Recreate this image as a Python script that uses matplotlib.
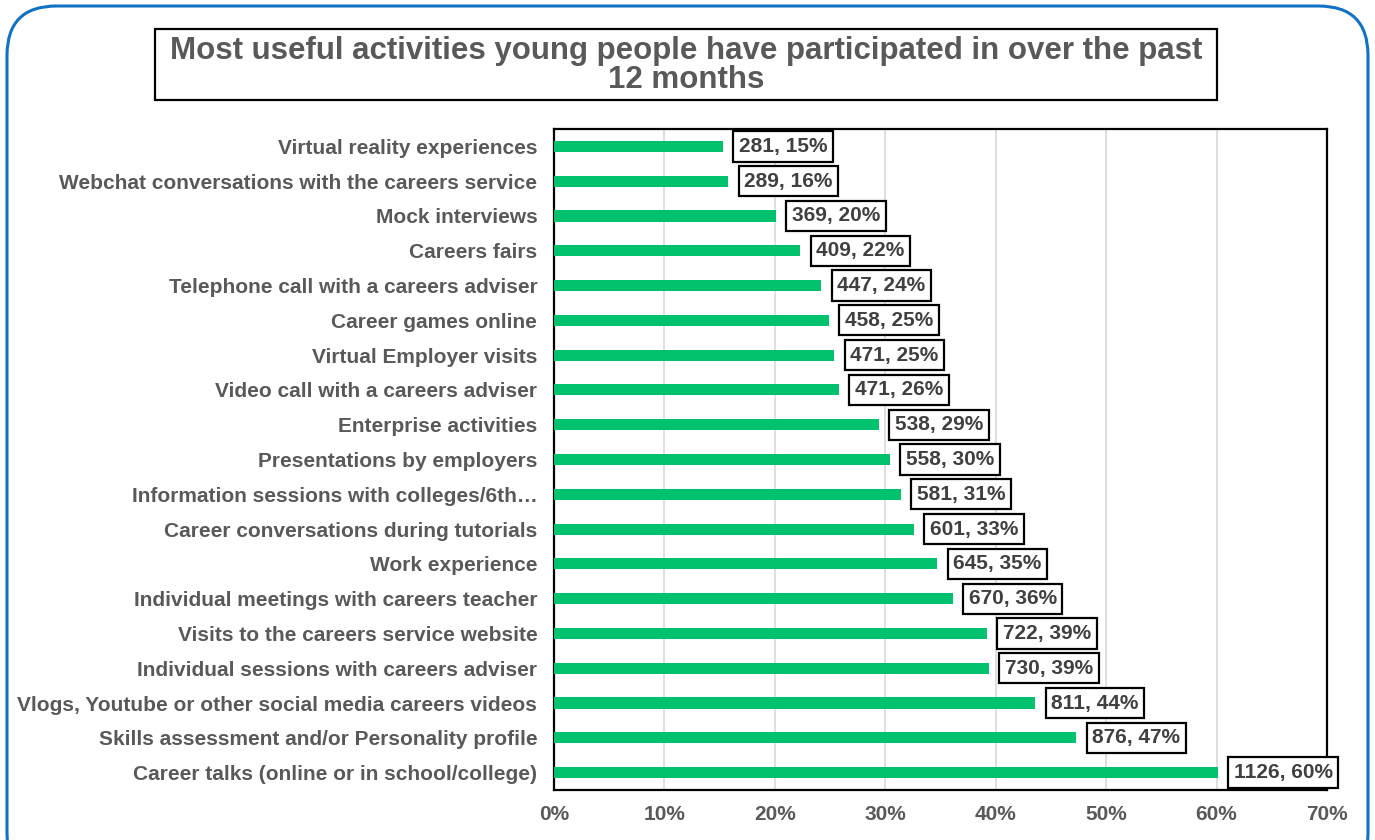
import matplotlib
matplotlib.use("Agg")
import matplotlib.pyplot as plt
from matplotlib.patches import FancyBboxPatch, Rectangle
from matplotlib.ticker import PercentFormatter, MultipleLocator

# Activities, listed bottom to top
activities = [
    "Career talks (online or in school/college)",
    "Skills assessment and/or Personality profile",
    "Vlogs, Youtube or other social media careers videos",
    "Individual sessions with careers adviser",
    "Visits to the careers service website",
    "Individual meetings with careers teacher",
    "Work experience",
    "Career conversations during tutorials",
    "Information sessions with colleges/6th\u2026",
    "Presentations by employers",
    "Enterprise activities",
    "Video call with a careers adviser",
    "Virtual Employer visits",
    "Career games online",
    "Telephone call with a careers adviser",
    "Careers fairs",
    "Mock interviews",
    "Webchat conversations with the careers service",
    "Virtual reality experiences",
]
counts = [1126, 876, 811, 730, 722, 670, 645, 601, 581, 558, 538, 471, 471,
          458, 447, 409, 369, 289, 281]
percents = [60.1, 47.3, 43.6, 39.4, 39.2, 36.1, 34.7, 32.6, 31.4, 30.4, 29.4,
            25.8, 25.4, 24.9, 24.2, 22.3, 20.1, 15.8, 15.3]

TEXT = "#595959"
BAR = "#00C16E"
GRID = "#D9D9D9"
BORDER = "#1172C4"

plt.rcParams["font.family"] = ["Liberation Sans", "DejaVu Sans"]

W, H = 1375, 840
fig = plt.figure(figsize=(W / 100, H / 100), dpi=100)
ax = fig.add_axes([554 / W, 1 - 790 / H, (1327 - 554) / W, (790 - 129) / H])

y = range(len(activities))
ax.barh(y, percents, height=0.32, color=BAR, zorder=3)

ax.set_xlim(0, 70)
ax.set_ylim(-0.5, len(activities) - 0.5)
ax.xaxis.set_major_locator(MultipleLocator(10))
ax.xaxis.set_major_formatter(PercentFormatter(decimals=0))
ax.grid(axis="x", color=GRID, linewidth=1.2, zorder=0)
ax.set_axisbelow(True)

ax.set_yticks(list(y))
ax.set_yticklabels(activities)
ax.tick_params(axis="both", length=0, labelsize=15, labelcolor=TEXT)
ax.tick_params(axis="y", pad=12)
ax.tick_params(axis="x", pad=11)
for lab in ax.get_xticklabels() + ax.get_yticklabels():
    lab.set_fontweight("bold")

for sp in ax.spines.values():
    sp.set_color("black")
    sp.set_linewidth(1.6)

# Value labels in boxes
for yi, c, p in zip(y, counts, percents):
    ax.annotate(f"{c}, {p:.0f}%", xy=(p, yi), xytext=(16, 0),
                textcoords="offset pixels",
                ha="left", va="center", fontsize=15, fontweight="bold",
                color="#404040", zorder=5, annotation_clip=False,
                bbox=dict(boxstyle="square,pad=0.27", fc="white",
                          ec="black", lw=1.6))

# Title box
title_box = Rectangle((155 / W, 1 - 100 / H), (1217 - 155) / W, 71 / H,
                      transform=fig.transFigure, fill=False, ec="black",
                      lw=1.6)
fig.add_artist(title_box)
fig.text(686 / W, 1 - 65.5 / H,
         "Most useful activities young people have participated in over the past\n12 months",
         ha="center", va="center", fontsize=22.5, fontweight="bold",
         color=TEXT, linespacing=0.98)

# Outer rounded frame
frame = FancyBboxPatch((7 / W, -0.05), (1368 - 7) / W, 1.05 - 6 / H,
                       boxstyle="round,pad=0,rounding_size=0.036",
                       transform=fig.transFigure, fill=False, ec=BORDER,
                       lw=2.2, mutation_aspect=W / H)
fig.add_artist(frame)

fig.savefig("out.png", dpi=100)
